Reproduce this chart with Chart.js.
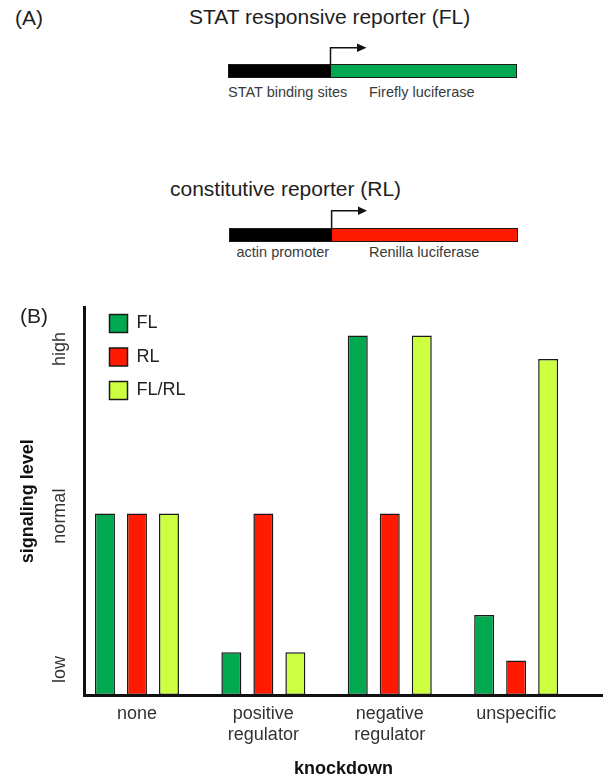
<!DOCTYPE html>
<html>
<head>
<meta charset="utf-8">
<script src="https://cdn.jsdelivr.net/npm/chart.js@4/dist/chart.umd.min.js"></script>
<style>
  html, body { margin: 0; padding: 0; background: #fff; }
  #page { position: relative; width: 603px; height: 780px; overflow: hidden;
          font-family: "Liberation Sans", Arial, Helvetica, sans-serif; color: #222; }
  .t { position: absolute; white-space: nowrap; line-height: 1; }
  .big { font-size: 21px; color: #1e1e1e; }
  .small { font-size: 14.5px; color: #3a3a3a; }
  .bar { position: absolute; box-sizing: border-box; border: 1.5px solid #1a1a1a; }
  #chartBox { position: absolute; left: 0; top: 300px; width: 603px; height: 480px; }
  #arrows { position: absolute; left: 0; top: 0; }
</style>
</head>
<body>
<div id="page">
  <div class="t big" style="left:15px; top:6.7px;">(A)</div>
  <div class="t big" style="left:189px; top:6.2px;">STAT responsive reporter (FL)</div>
  <div class="bar" style="left:228px; top:64.3px; width:289px; height:14px;
       background: linear-gradient(to right, #000 0, #000 102px, #00A84F 102px);"></div>
  <div class="t small" style="left:228px; top:85.2px;">STAT binding sites</div>
  <div class="t small" style="left:369px; top:85.2px;">Firefly luciferase</div>

  <div class="t big" style="left:170px; top:177.7px;">constitutive reporter (RL)</div>
  <div class="bar" style="left:229px; top:228.3px; width:289px; height:13.5px;
       background: linear-gradient(to right, #000 0, #000 102px, #FF1A00 102px);"></div>
  <div class="t small" style="left:236.5px; top:244.7px;">actin promoter</div>
  <div class="t small" style="left:369px; top:244.7px;">Renilla luciferase</div>

  <svg id="arrows" width="603" height="300" xmlns="http://www.w3.org/2000/svg">
    <polyline points="330.5,64.5 330.5,47.7 358,47.7" fill="none" stroke="#111" stroke-width="1.5"/>
    <polygon points="357,43.5 366.5,47.7 357,52" fill="#111"/>
    <polyline points="331.6,228.5 331.6,210.7 358,210.7" fill="none" stroke="#111" stroke-width="1.5"/>
    <polygon points="358,206.5 367,210.7 358,215" fill="#111"/>
  </svg>

  <div id="chartBox"><canvas id="c" width="603" height="480"></canvas></div>
  <div class="t big" style="left:20px; top:305.2px;">(B)</div>
</div>
<script>
// ---- data ----
const categories = ['none', 'positive regulator', 'negative regulator', 'unspecific'];
const categoryLabelLines = [['none'], ['positive', 'regulator'], ['negative', 'regulator'], ['unspecific']];
const seriesNames = ['FL', 'RL', 'FL/RL'];
const flValues = [1.0, 0.235, 1.98, 0.44];
const rlValues = [1.0, 1.0, 1.0, 0.19];
const flRlValues = [1.0, 0.235, 1.98, 1.85];
const yTickValues = [0.14, 0.985, 1.905];
const yTickLabels = ['low', 'normal', 'high'];
const seriesColors = ['#00A84F', '#FF1A00', '#CCFF40'];

Chart.defaults.font.family = "'Liberation Sans', Arial, Helvetica, sans-serif";
Chart.defaults.color = '#222';

const seriesValues = [flValues, rlValues, flRlValues];
const datasets = seriesNames.map((name, s) => ({
  label: name,
  data: seriesValues[s].map((v, i) => ({ x: i, y: v })),
  backgroundColor: seriesColors[s],
  borderColor: '#1a1a1a',
  borderWidth: 1.5,
  borderSkipped: false,
  categoryPercentage: 0.7595,
  barPercentage: 0.625
}));

const legendOffset = {
  id: 'legendOffset',
  afterLayout(chart) {
    const lg = chart.legend;
    if (!lg) return;
    lg.left += 10; lg.right += 10;
    lg.top -= 1; lg.bottom -= 1;
  }
};

new Chart(document.getElementById('c'), {
  type: 'bar',
  data: { datasets },
  plugins: [legendOffset],
  options: {
    responsive: false,
    animation: false,
    layout: { padding: { top: 5, left: 0, right: 0, bottom: 0 } },
    plugins: {
      tooltip: { enabled: false },
      legend: {
        position: 'chartArea',
        align: 'start',
        labels: {
          boxWidth: 18, boxHeight: 18, padding: 15.5,
          font: { size: 18 }, color: '#222'
        }
      }
    },
    scales: {
      x: {
        type: 'linear',
        position: 'bottom',
        bounds: 'data',
        offset: false,
        min: -0.419,
        max: 3.687,
        grid: { display: false, drawTicks: false, offset: false },
        border: { display: true, color: '#111', width: 3, z: 1 },
        afterBuildTicks: (scale) => { scale.ticks = categories.map((c, i) => ({ value: i })); },
        afterFit: (scale) => { scale.height = 85; },
        ticks: {
          autoSkip: false, maxRotation: 0, minRotation: 0,
          padding: 9,
          font: { size: 18, lineHeight: 1.15 },
          color: '#333',
          callback: (value) => categoryLabelLines[value]
        },
        title: {
          display: true, text: 'knockdown', color: '#111',
          font: { size: 18, weight: 'bold', lineHeight: 1 },
          padding: { top: 0, bottom: 2 }
        }
      },
      y: {
        type: 'linear',
        position: 'left',
        bounds: 'data',
        min: 0,
        max: 2.135,
        grid: { display: false, drawTicks: false },
        border: { display: true, color: '#111', width: 3, z: 1 },
        afterBuildTicks: (scale) => { scale.ticks = yTickValues.map(v => ({ value: v })); },
        afterFit: (scale) => { scale.width = 84; },
        ticks: {
          autoSkip: false,
          minRotation: 90, maxRotation: 90,
          crossAlign: 'center',
          padding: -3.5,
          font: { size: 18 },
          color: '#333',
          callback: (value, index) => yTickLabels[index]
        },
        title: {
          display: true, text: 'signaling level', color: '#111',
          font: { size: 18, weight: 'bold', lineHeight: 1.2 },
          padding: { top: 17, bottom: 0 }
        }
      }
    }
  }
});
</script>
</body>
</html>
